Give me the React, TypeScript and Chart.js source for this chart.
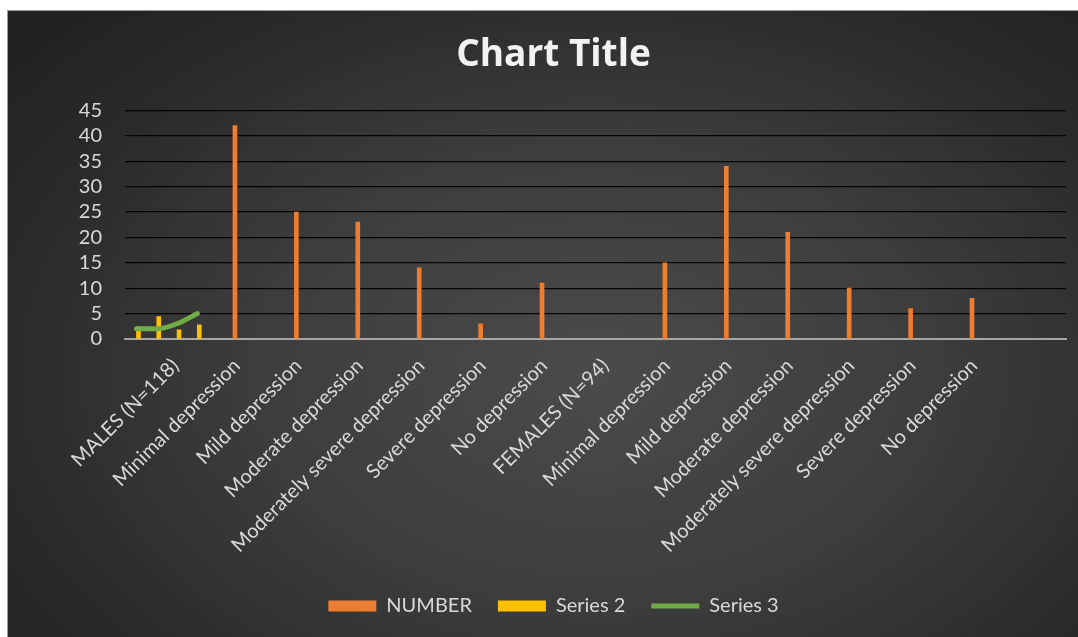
import React, { useEffect, useRef } from "react";
import { Chart, registerables } from "chart.js";

Chart.register(...registerables);

const categories = [
  "MALES (N=118)",
  "Minimal depression",
  "Mild depression",
  "Moderate depression",
  "Moderately severe depression",
  "Severe depression",
  "No depression",
  "FEMALES (N=94)",
  "Minimal depression",
  "Mild depression",
  "Moderate depression",
  "Moderately severe depression",
  "Severe depression",
  "No depression",
];
const numberValues: (number | null)[] = [null, 42, 25, 23, 14, 3, 11, null, 15, 34, 21, 10, 6, 8];
const series2Values = [2.4, 4.4, 1.8, 2.8];
const series3Values = [2, 2, 3, 5];
const yMin = 0;
const yMax = 45;
const yStep = 5;

const FONT = "Lato, 'Open Sans', sans-serif";
const TEXT = "#d9d9d9";
const LEFT_PAD = 33;

export default function App() {
  const ref = useRef<HTMLCanvasElement | null>(null);

  useEffect(() => {
    if (!ref.current) return;
    const chart = new Chart(ref.current, {
      type: "bar",
      data: {
        datasets: [
          {
            type: "bar",
            label: "NUMBER",
            xAxisID: "x",
            data: numberValues.map((v, i) => ({ x: i, y: v })) as any,
            backgroundColor: "#ED7D31",
            barThickness: 4,
            grouped: false,
            pointStyle: "rect",
            borderWidth: 0,
            order: 2,
          } as any,
          {
            type: "bar",
            label: "Series 2",
            xAxisID: "x3",
            data: series2Values.map((v, i) => ({ x: i, y: v })) as any,
            backgroundColor: "#FFC000",
            barThickness: 4,
            grouped: false,
            pointStyle: "rect",
            borderWidth: 0,
            order: 1,
          } as any,
          {
            type: "line",
            label: "Series 3",
            xAxisID: "x2",
            data: series3Values.map((v, i) => ({ x: i, y: v })) as any,
            borderColor: "#70AD47",
            backgroundColor: "#70AD47",
            borderWidth: 5,
            borderCapStyle: "round",
            borderJoinStyle: "round",
            pointRadius: 0,
            pointStyle: "line",
            cubicInterpolationMode: "monotone",
            fill: false,
            order: 0,
          } as any,
        ],
      },
      options: {
        animation: false,
        responsive: true,
        maintainAspectRatio: false,
        layout: { padding: { top: 0, right: 12, bottom: 11, left: LEFT_PAD } },
        plugins: {
          tooltip: { enabled: false },
          title: {
            display: true,
            text: "Chart Title",
            color: "#f2f2f2",
            font: { family: "'Open Sans', Lato, sans-serif", size: 37, weight: "bold" },
            padding: { top: 22, bottom: 33 },
          },
          legend: {
            position: "bottom",
            labels: {
              color: TEXT,
              font: { family: FONT, size: 20 },
              usePointStyle: true,
              pointStyleWidth: 48,
              boxWidth: 48,
              boxHeight: 11,
              padding: 26,
              sort: (a: any, b: any) => a.datasetIndex - b.datasetIndex,
            },
          },
        },
        scales: {
          x: {
            type: "linear",
            position: "bottom",
            offset: false,
            min: -0.79,
            max: 14.53,
            bounds: "data",
            afterBuildTicks: (scale: any) => {
              scale.ticks = categories.map((_, i) => ({ value: i }));
            },
            afterFit: (scale: any) => {
              scale.height = 231;
            },
            grid: { display: false, offset: false },
            border: { display: true, color: "#a6a6a6", width: 2 },
            ticks: {
              autoSkip: false,
              minRotation: 45,
              maxRotation: 45,
              color: TEXT,
              font: { family: FONT, size: 20 },
              padding: 7,
              labelOffset: 2,
              callback: (value: any) => categories[value as number] ?? "",
            },
          } as any,
          x2: {
            type: "linear",
            display: false,
            offset: false,
            min: -0.567,
            max: 45.84,
            bounds: "data",
          } as any,
          x3: {
            type: "linear",
            display: false,
            offset: false,
            min: -0.665,
            max: 45.74,
            bounds: "data",
          } as any,
          y: {
            type: "linear",
            min: yMin,
            max: yMax,
            afterFit: (scale: any) => {
              scale.width = 117 - LEFT_PAD;
            },
            ticks: {
              stepSize: yStep,
              autoSkip: false,
              color: TEXT,
              font: { family: FONT, size: 20 },
              padding: 23,
            },
            grid: {
              drawTicks: false,
              color: (ctx: any) => (ctx.tick && ctx.tick.value === 0 ? "rgba(0,0,0,0)" : "#050505"),
              lineWidth: 1.2,
            },
            border: { display: false },
          } as any,
        },
      },
    });
    return () => chart.destroy();
  }, []);

  return (
    <div
      style={{
        position: "fixed",
        left: 7,
        top: 10,
        width: 1071,
        height: 627,
        background:
          "radial-gradient(ellipse 70% 80% at 55% 58%, #4b4b4b 0%, #3d3d3d 45%, #2a2a2a 80%, #222222 100%)",
        borderTop: "1px solid #9a9a9a",
        borderLeft: "1px solid #9a9a9a",
        boxSizing: "border-box",
      }}
    >
      <canvas ref={ref} />
    </div>
  );
}
